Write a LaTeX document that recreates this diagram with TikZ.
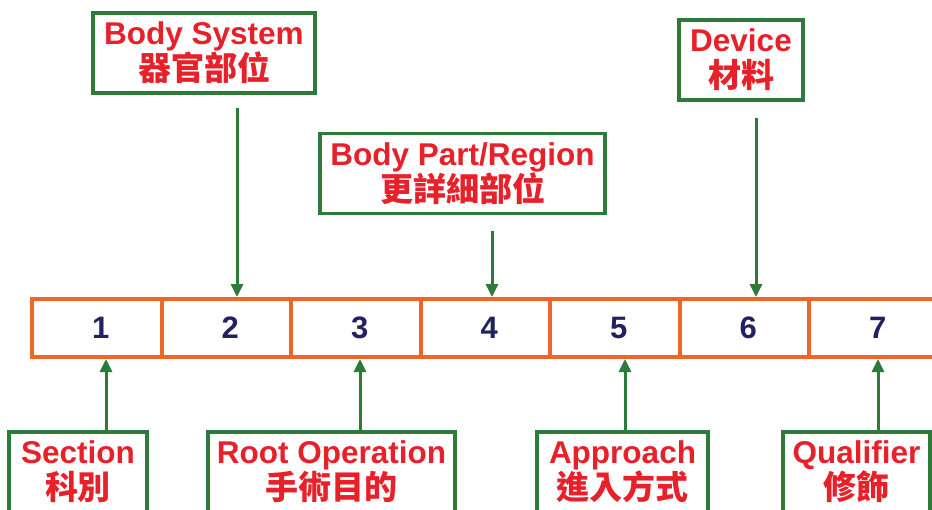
\documentclass[tikz,border=0pt]{standalone}
\usepackage{fontspec}
\setmainfont{Liberation Sans}
\newfontfamily\cjk{Noto Sans CJK TC}
\usetikzlibrary{arrows.meta}
\definecolor{boxgreen}{RGB}{46,122,58}
\definecolor{cellorange}{RGB}{240,102,40}
\definecolor{numblue}{RGB}{34,34,96}
\definecolor{labred}{RGB}{232,32,42}
\newcommand{\zh}[1]{{\cjk\bfseries\fontsize{33}{36}\selectfont #1}}
\begin{document}
\begin{tikzpicture}[x=1pt,y=-1pt,
  cell/.style={draw=cellorange, line width=4pt, minimum width=129.5pt, minimum height=58pt, inner sep=0pt, outer sep=0pt},
  num/.style={text=numblue, font=\bfseries\fontsize{31}{31}\selectfont, inner sep=0pt},
  lab/.style={draw=boxgreen, line width=3.5pt, align=center, text=labred, inner sep=0pt, outer sep=0pt, minimum height=80pt, font=\bfseries\fontsize{31.5}{36}\selectfont},
  arr/.style={draw=boxgreen, line width=3pt, -{Triangle[length=13pt,width=12pt]}}
]
\clip (0,0) rectangle (932,509);
\fill[white] (0,0) rectangle (932,509);

% row of cells
\foreach \i in {1,...,7} {
  \node[cell] (c\i) at ({32+129.5*(\i-0.5)},328) {};
}
\foreach \i in {1,...,7} {
  \node[num] (n\i) at ([xshift=4pt]c\i.center) {\i};
}

% top labels
\node[lab, minimum width=222pt] (bs) at (204,53) {Body System\\\zh{器官部位}};
\node[lab, minimum width=285pt] (bp) at (462.5,173.5) {Body Part/Region\\\zh{更詳細部位}};
\node[lab, minimum width=124pt] (dv) at (741,60) {Device\\\zh{材料}};

% bottom labels
\node[lab, minimum width=138pt] (sc) at (78,472) {Section\\\zh{科別}};
\node[lab, minimum width=247pt] (ro) at (331.5,472) {Root Operation\\\zh{手術目的}};
\node[lab, minimum width=171pt] (ap) at (622.5,472) {Approach\\\zh{進入方式}};
\node[lab, minimum width=147pt] (ql) at (856.5,472) {Qualifier\\\zh{修飾}};

% arrow columns
\coordinate (x2) at (237,0);
\coordinate (x4) at (492,0);
\coordinate (x6) at (756,0);
\coordinate (x1) at (106,0);
\coordinate (x3) at (360,0);
\coordinate (x5) at (625,0);
\coordinate (x7) at (878,0);

\draw[arr, shorten <=15pt, shorten >=2pt] (bs.south -| x2) -- (c2.north -| x2);
\draw[arr, shorten <=17pt, shorten >=2pt] (bp.south -| x4) -- (c4.north -| x4);
\draw[arr, shorten <=18pt, shorten >=2pt] (dv.south -| x6) -- (c6.north -| x6);

\draw[arr, shorten >=2pt] (sc.north -| x1) -- (c1.south -| x1);
\draw[arr, shorten >=2pt] (ro.north -| x3) -- (c3.south -| x3);
\draw[arr, shorten >=2pt] (ap.north -| x5) -- (c5.south -| x5);
\draw[arr, shorten >=2pt] (ql.north -| x7) -- (c7.south -| x7);
\end{tikzpicture}
\end{document}
